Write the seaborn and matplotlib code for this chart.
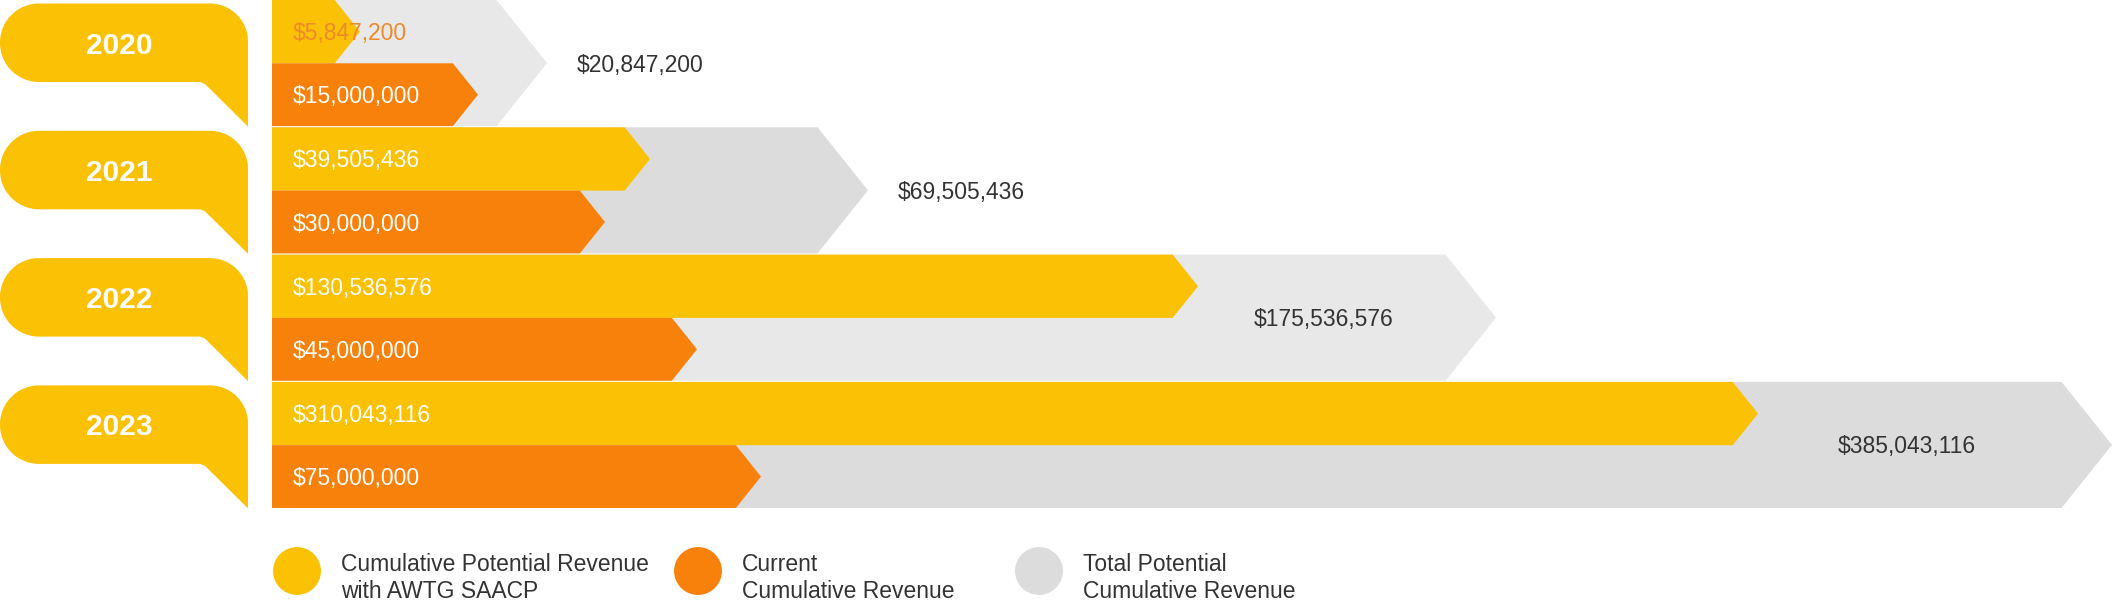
import numpy as np
import matplotlib
matplotlib.use("Agg")
import matplotlib.pyplot as plt
import seaborn as sns
import pandas as pd
from matplotlib.patches import Polygon

# ---------------- data ----------------
years = ["2020", "2021", "2022", "2023"]
awtg_revenue = [5847200, 39505436, 130536576, 310043116]      # Cumulative Potential Revenue with AWTG SAACP
current_revenue = [15000000, 30000000, 45000000, 75000000]    # Current Cumulative Revenue
total_revenue = [20847200, 69505436, 175536576, 385043116]    # Total Potential Cumulative Revenue
# pictorial (not to scale) arrow lengths as read from the infographic
awtg_len = [88, 378, 926, 1486]
current_len = [206, 333, 425, 489]
total_len = [275, 596, 1224, 1840]
legend_labels = [["Cumulative Potential Revenue", "with AWTG SAACP"],
                 ["Current", "Cumulative Revenue"],
                 ["Total Potential", "Cumulative Revenue"]]

# ---------------- style ----------------
YELLOW = "#FBC104"
ORANGE = "#F7810B"
GRAY_L = "#E8E8E8"
GRAY_D = "#DCDCDC"
TEXT_DARK = "#333333"
LABEL_ORANGE = "#EE8A2A"

sns.set_theme(style="white")
plt.rcParams["font.family"] = ["Liberation Sans", "DejaVu Sans"]

W, H = 2113, 606
fig = plt.figure(figsize=(W / 100, H / 100), dpi=100)
ax = fig.add_axes([0, 0, 1, 1])

X0 = 272          # bar origin
PITCH = 127.3     # group pitch
ROW_H = 63.3      # height of a single bar
FS = 16.5         # value label font size
EM = FS * 100 / 72
BASE = 0.36 * EM  # baseline offset to vertically centre digits


def arrow(x0, length, ytop, h, color):
    depth = 0.8 * h / 2
    xt = x0 + length
    pts = [(x0, ytop), (xt - depth, ytop), (xt, ytop + h / 2),
           (xt - depth, ytop + h), (x0, ytop + h)]
    ax.add_patch(Polygon(pts, closed=True, fc=color, ec="none", lw=0))


def arc(cx, cy, r, a0, a1, n=24):
    t = np.radians(np.linspace(a0, a1, n))
    return list(zip(cx + r * np.cos(t), cy - r * np.sin(t)))


def bubble(gtop):
    x0, x1 = 0, 248
    top, bot, tail = gtop + 3.5, gtop + 82, gtop + 126.5
    rl, rr = 39, 38
    pts = []
    pts += arc(x1 - rr, top + rr, rr, 90, 0)
    pts += [(x1, tail), (205, bot + 2), (200, bot)]
    pts += arc(x0 + rl, bot - rl, rl, 270, 180)
    pts += arc(x0 + rl, top + rl, rl, 180, 90)
    ax.add_patch(Polygon(pts, closed=True, fc=YELLOW, ec="none", lw=0))
    return (top + bot) / 2


for i, yr in enumerate(years):
    gt = i * PITCH
    gcol = GRAY_L if i % 2 == 0 else GRAY_D
    # total (background) arrow spanning both rows
    arrow(X0, total_len[i], gt, 2 * ROW_H - 0.5, gcol)
    arrow(X0, awtg_len[i], gt, ROW_H, YELLOW)
    arrow(X0, current_len[i], gt + ROW_H, ROW_H - 0.5, ORANGE)

    # year bubble
    cy = bubble(gt)
    ax.text(119, cy + 0.36 * 21.5 * 100 / 72, yr, ha="center", va="baseline",
            fontsize=21.5, fontweight="bold", color="white")

    # value labels
    ycol = "white" if awtg_len[i] > 160 else LABEL_ORANGE
    ax.text(X0 + 21, gt + ROW_H / 2 + BASE, f"${awtg_revenue[i]:,}", ha="left",
            va="baseline", fontsize=FS, color=ycol)
    ax.text(X0 + 21, gt + 1.5 * ROW_H + BASE, f"${current_revenue[i]:,}", ha="left",
            va="baseline", fontsize=FS, color="white")

    gap = total_len[i] - awtg_len[i]
    if gap > 260:
        xl = X0 + awtg_len[i] + 0.42 * gap
        ha = "center"
    else:
        xl = X0 + total_len[i] + 30
        ha = "left"
    ax.text(xl, gt + ROW_H + BASE, f"${total_revenue[i]:,}", ha=ha, va="baseline",
            fontsize=FS, color=TEXT_DARK)

# ---------------- legend ----------------
leg_df = pd.DataFrame({"x": [297, 698, 1039], "y": [571, 571, 571],
                       "series": ["awtg", "current", "total"]})
sns.scatterplot(data=leg_df, x="x", y="y", hue="series",
                palette=[YELLOW, ORANGE, GRAY_D], s=1190, linewidth=0,
                legend=False, ax=ax)
for xc, lines in zip(leg_df["x"], legend_labels):
    ax.text(xc + 44, 563 + BASE, lines[0], ha="left", va="baseline",
            fontsize=FS, color=TEXT_DARK)
    ax.text(xc + 44, 590 + BASE, lines[1], ha="left", va="baseline",
            fontsize=FS, color=TEXT_DARK)

ax.set_xlim(0, W)
ax.set_ylim(H, 0)
ax.axis("off")
fig.savefig("out.png", dpi=100, facecolor="white")
